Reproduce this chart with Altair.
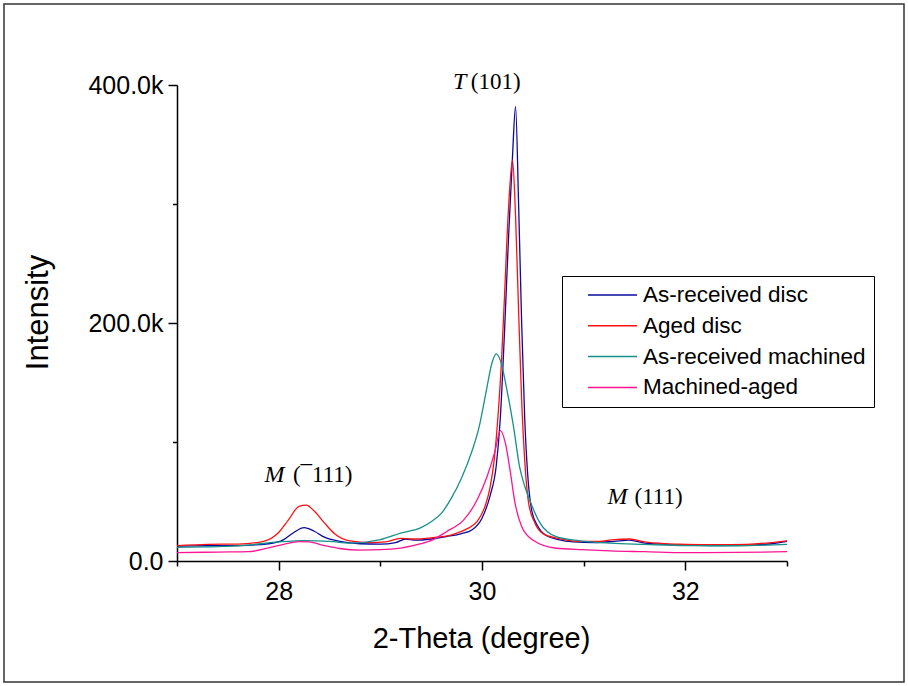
import altair as alt
import pandas as pd

# ---------------- data ----------------
series_names = ["As-received disc", "Aged disc", "As-received machined", "Machined-aged"]
series_colors = ["#0A0AA0", "#FF1010", "#17908C", "#FF1493"]

disc_x = [27.0, 27.3, 27.6, 27.9, 28.05, 28.15, 28.25, 28.35, 28.45, 28.6, 28.8, 29.0, 29.15,
          29.25, 29.35, 29.5, 29.65, 29.8, 29.9, 30.0, 30.08, 30.14, 30.18, 30.22, 30.26, 30.30,
          30.33, 30.36, 30.39, 30.42, 30.45, 30.49, 30.55, 30.62, 30.75, 30.9, 31.1, 31.3, 31.45,
          31.6, 31.8, 32.0, 32.3, 32.6, 32.85, 33.0]
disc_y = [12500, 12800, 13000, 14500, 18000, 24000, 28000, 25000, 20000, 16500, 14500, 14200, 15500,
          18500, 17500, 18500, 20500, 23000, 26000, 36000, 55000, 80000, 120000, 190000, 270000, 340000,
          382000, 300000, 200000, 120000, 72000, 42000, 29000, 22000, 18000, 16000, 15500, 16500, 17500,
          15000, 14000, 13500, 13000, 13200, 14500, 16500]

aged_x = [27.0, 27.3, 27.6, 27.85, 28.0, 28.1, 28.2, 28.27, 28.35, 28.45, 28.55, 28.7, 28.9, 29.05,
          29.2, 29.3, 29.5, 29.7, 29.85, 29.95, 30.03, 30.08, 30.12, 30.16, 30.19, 30.22, 30.26,
          30.30, 30.33, 30.36, 30.39, 30.42, 30.46, 30.52, 30.6, 30.75, 30.95, 31.15, 31.3, 31.45,
          31.6, 31.8, 32.0, 32.3, 32.6, 32.85, 33.0]
aged_y = [13000, 14000, 14200, 16500, 24000, 35000, 46000, 47000, 42000, 32000, 23000, 17000, 15500, 16000,
          19000, 18500, 19500, 22000, 27000, 33000, 46000, 62000, 85000, 125000, 165000, 220000, 295000,
          337000, 290000, 210000, 135000, 85000, 48000, 32000, 23000, 19000, 16500, 16500, 18000, 18500,
          16000, 14500, 14000, 13700, 14000, 15500, 17000]

mach_x = [27.0, 27.4, 27.7, 28.0, 28.25, 28.5, 28.7, 29.0, 29.2, 29.4, 29.5, 29.6, 29.7, 29.8, 29.9,
          29.97, 30.04, 30.1, 30.14, 30.19, 30.24, 30.31, 30.37, 30.42, 30.47, 30.57, 30.73, 30.96,
          31.26, 31.6, 32.0, 32.5, 33.0]
mach_y = [11500, 12000, 13400, 16000, 17200, 16500, 15000, 18000, 23500, 28000, 33000, 40000, 53000,
          70000, 92000, 112000, 142000, 167000, 174000, 166000, 146000, 113000, 79000, 63000, 51000,
          32000, 20400, 17000, 15000, 14000, 13000, 12800, 14000]

magd_x = [27.0, 27.4, 27.7, 27.9, 28.05, 28.2, 28.3, 28.45, 28.6, 28.8, 29.0, 29.2, 29.4, 29.52, 29.65,
          29.82, 29.95, 30.05, 30.13, 30.18, 30.23, 30.28, 30.32, 30.39, 30.5, 30.73, 31.0, 31.26,
          31.6, 32.0, 32.5, 33.0]
magd_y = [7000, 7500, 7800, 11000, 14000, 16300, 16000, 13000, 10500, 9200, 9500, 10900, 14500, 18000,
          24600, 34500, 51000, 71000, 93000, 109500, 99000, 74000, 51000, 29000, 17600, 10700, 9500,
          8500, 7800, 7000, 7200, 7800]

# peak annotations (italic phase letter + Miller index)
ann_letters = ["T", "M", "M"]
ann_letter_x = [29.715, 27.86, 31.235]
ann_index = ["(101)", "(\u00af111)", "(111)"]
ann_index_x = [29.89, 28.14, 31.50]
ann_y = [402500, 72300, 53800]

y_ticks = [0, 100000, 200000, 300000, 400000]
x_ticks = [27, 28, 29, 30, 31, 32, 33]

# ---------------- tables ----------------
rows = []
for name, xs, ys in zip(series_names, [disc_x, aged_x, mach_x, magd_x], [disc_y, aged_y, mach_y, magd_y]):
    for a, b in zip(xs, ys):
        rows.append({"series": name, "theta": a, "intensity": b})
df = pd.DataFrame(rows)

letters_df = pd.DataFrame({"t": ann_letters, "theta": ann_letter_x, "intensity": ann_y})
index_df = pd.DataFrame({"t": ann_index, "theta": ann_index_x, "intensity": ann_y})

FONT = "Liberation Sans"
xscale = alt.Scale(domain=[27, 33], nice=False, zero=False)
yscale = alt.Scale(domain=[0, 400000], nice=False)

x_axis = alt.Axis(
    values=x_ticks, title="2-Theta (degree)", grid=False,
    labelExpr="datum.value % 2 == 0 ? datum.value : ''",
    tickSize={"condition": {"test": "datum.value % 2 == 0", "value": 9}, "value": 5},
    labelPadding=9, labelOverlap=False, labelFlush=False,
    titleFontSize=29,
    titleX=304, titleY=77, titleBaseline="middle", titleAlign="center",
)
y_axis = alt.Axis(
    values=y_ticks, title="Intensity", grid=False,
    labelExpr="datum.value == 0 ? '0.0' : (datum.value % 200000 == 0 ? format(datum.value / 1000, '.1f') + 'k' : '')",
    tickSize={"condition": {"test": "datum.value % 200000 == 0", "value": 9}, "value": 4.5},
    labelPadding=5, labelOverlap=False, labelFlush=False,
    titleFontSize=31,
    titleAngle=-90, titleX=-139, titleY=227, titleBaseline="middle", titleAlign="center",
)

lines = alt.Chart(df).mark_line(strokeWidth=1.3, interpolate="monotone").encode(
    x=alt.X("theta:Q", scale=xscale, axis=x_axis),
    y=alt.Y("intensity:Q", scale=yscale, axis=y_axis),
    color=alt.Color(
        "series:N",
        scale=alt.Scale(domain=series_names, range=series_colors),
        title=None,
        legend=alt.Legend(
            orient="none", legendX=385, legendY=191,
            symbolType="stroke", symbolSize=2401, symbolStrokeWidth=1.5,
            clipHeight=22, rowPadding=7.8, padding=8,
            symbolOffset=17, labelOffset=5,
            labelFont=FONT, labelFontSize=22.5, labelColor="black", labelLimit=400,
            strokeColor="black", fillColor="white",
        ),
    ),
)

letters = alt.Chart(letters_df).mark_text(
    font="Liberation Serif", fontStyle="italic", fontSize=24, align="left", baseline="middle", color="black"
).encode(x=alt.X("theta:Q", scale=xscale), y=alt.Y("intensity:Q", scale=yscale), text="t:N")

indices = alt.Chart(index_df).mark_text(
    font="Liberation Serif", fontSize=23, align="left", baseline="middle", color="black"
).encode(x=alt.X("theta:Q", scale=xscale), y=alt.Y("intensity:Q", scale=yscale), text="t:N")

border = alt.Chart(pd.DataFrame({"a": [0]})).mark_rect(
    filled=False, stroke="#333333", strokeWidth=1.5
).encode(x=alt.value(-173), x2=alt.value(727), y=alt.value(-81), y2=alt.value(597))

chart = alt.layer(border, lines, letters, indices).properties(
    width=610, height=476,
    autosize=alt.AutoSizeParams(type="none"),
    padding={"left": 177, "top": 85, "right": 121, "bottom": 125},
    background="white",
).configure_view(strokeOpacity=0).configure_axis(
    labelFont=FONT, labelFontSize=25, labelColor="black",
    titleFont=FONT, titleFontWeight="normal", titleColor="black",
    domainColor="black", domainWidth=1.5, tickColor="black", tickWidth=1.5,
)

chart.save("out.html", embed_options={"renderer": "svg", "actions": False})
